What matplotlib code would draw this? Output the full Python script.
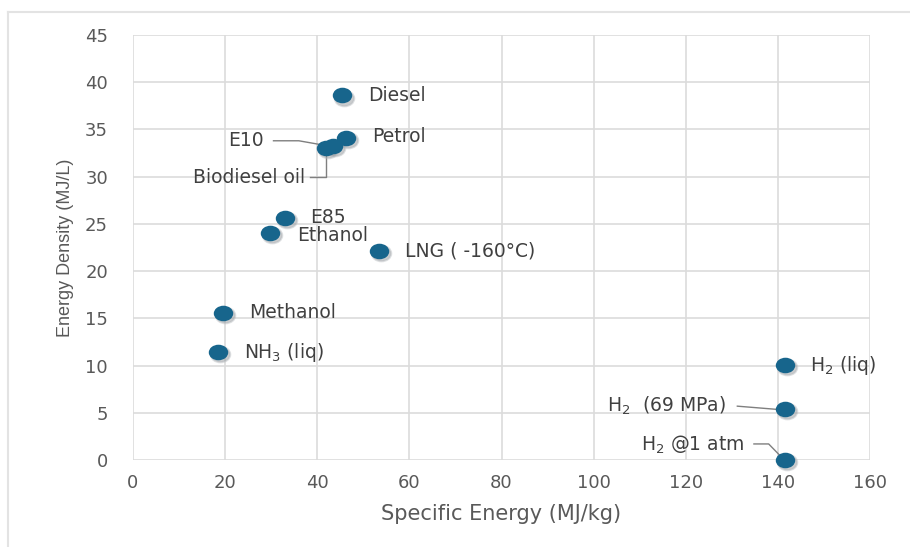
import matplotlib
matplotlib.use("Agg")
import matplotlib.pyplot as plt
from matplotlib.lines import Line2D
from matplotlib.path import Path
from matplotlib.transforms import Affine2D, offset_copy

# fuels: specific energy (MJ/kg), energy density (MJ/L)
fuels = ["Diesel", "Petrol", "E10", "Biodiesel oil", "E85", "Ethanol",
         "LNG ( -160°C)", "Methanol", "NH$_3$ (liq)", "H$_2$ (liq)",
         "H$_2$  (69 MPa)", "H$_2$ @1 atm"]
spec_energy = [45.4, 46.2, 43.4, 41.8, 33.0, 29.7, 53.4, 19.5, 18.5, 141.6, 141.6, 141.6]
energy_dens = [38.6, 34.1, 33.3, 33.0, 25.6, 24.0, 22.1, 15.6, 11.4, 10.1, 5.4, 0.0]

# label anchor (x, y, ha) and leader paths in data units
label_pos = [(51.0, 38.6, "left"), (51.9, 34.2, "left"), (28.4, 33.8, "right"),
             (37.3, 29.9, "right"), (38.4, 25.7, "left"), (35.6, 23.8, "left"),
             (59.1, 22.1, "left"), (25.2, 15.6, "left"), (24.1, 11.4, "left"),
             (147.0, 10.0, "left"), (128.8, 5.7, "right"), (132.7, 1.6, "right")]
leaders = {
    "E10": ([30.5, 36.0, 43.0], [33.8, 33.8, 33.2]),
    "Biodiesel oil": ([38.5, 41.9, 41.9], [30.0, 30.0, 32.8]),
    "H$_2$  (69 MPa)": ([131.2, 141.3], [5.7, 5.3]),
    "H$_2$ @1 atm": ([134.8, 138.0, 141.0], [1.7, 1.7, 0.2]),
}

MARK = "#17658C"
TXT = "#404040"
TICK = "#595959"
WIDE = ["DejaVu Sans"]
NARROW = ["Liberation Sans", "DejaVu Sans"]

# slightly wide ellipse marker, like the spreadsheet original
ellipse = Path.unit_circle().transformed(Affine2D().scale(1.25, 1.0))

fig = plt.figure(figsize=(9.10, 5.47), dpi=100)
ax = fig.add_axes([133 / 910, 87 / 547, 737 / 910, 425 / 547])

# outer frame of the original screenshot
fig.add_artist(Line2D([8 / 910, 1.0], [1 - 12 / 547] * 2, color="#e3e3e3", lw=1.5))
fig.add_artist(Line2D([8 / 910] * 2, [0.0, 1 - 12 / 547], color="#e3e3e3", lw=1.5))

ax.set_xlim(0, 160)
ax.set_ylim(0, 45)
ax.set_xticks(range(0, 161, 20))
ax.set_yticks(range(0, 46, 5))
ax.grid(True, color="#dcdcdc", lw=1.2)
ax.set_axisbelow(True)
for s in ax.spines.values():
    s.set_visible(False)
ax.tick_params(length=0, labelsize=13, labelcolor=TICK)
ax.tick_params(axis="x", pad=10)
ax.tick_params(axis="y", pad=18)
for lab in ax.get_xticklabels() + ax.get_yticklabels():
    lab.set_family(WIDE)

for nm, (lx, ly) in leaders.items():
    ax.plot(lx, ly, color="#7f7f7f", lw=1.0, zorder=2)

# soft drop shadow, then the markers
shadow = offset_copy(ax.transData, fig=fig, x=1.5, y=-1.5, units="points")
ax.plot(spec_energy, energy_dens, ls="none", marker=ellipse, ms=14,
        mfc="#8a8f94", mec="#b5b9bd", mew=1.5, alpha=0.45, zorder=2.5,
        clip_on=False, transform=shadow)
ax.plot(spec_energy, energy_dens, ls="none", marker=ellipse, ms=14,
        mfc=MARK, mec="none", zorder=3, clip_on=False)

for nm, (tx, ty, ha) in zip(fuels, label_pos):
    ax.text(tx, ty, nm, ha=ha, va="center", fontsize=13.5, color=TXT, family=WIDE)

ax.set_xlabel("Specific Energy (MJ/kg)", fontsize=15, color=TICK,
              family=WIDE, labelpad=9)
ax.set_ylabel("Energy Density (MJ/L)", fontsize=13, color=TICK,
              family=NARROW, labelpad=8)

fig.savefig("out.png", dpi=100)
